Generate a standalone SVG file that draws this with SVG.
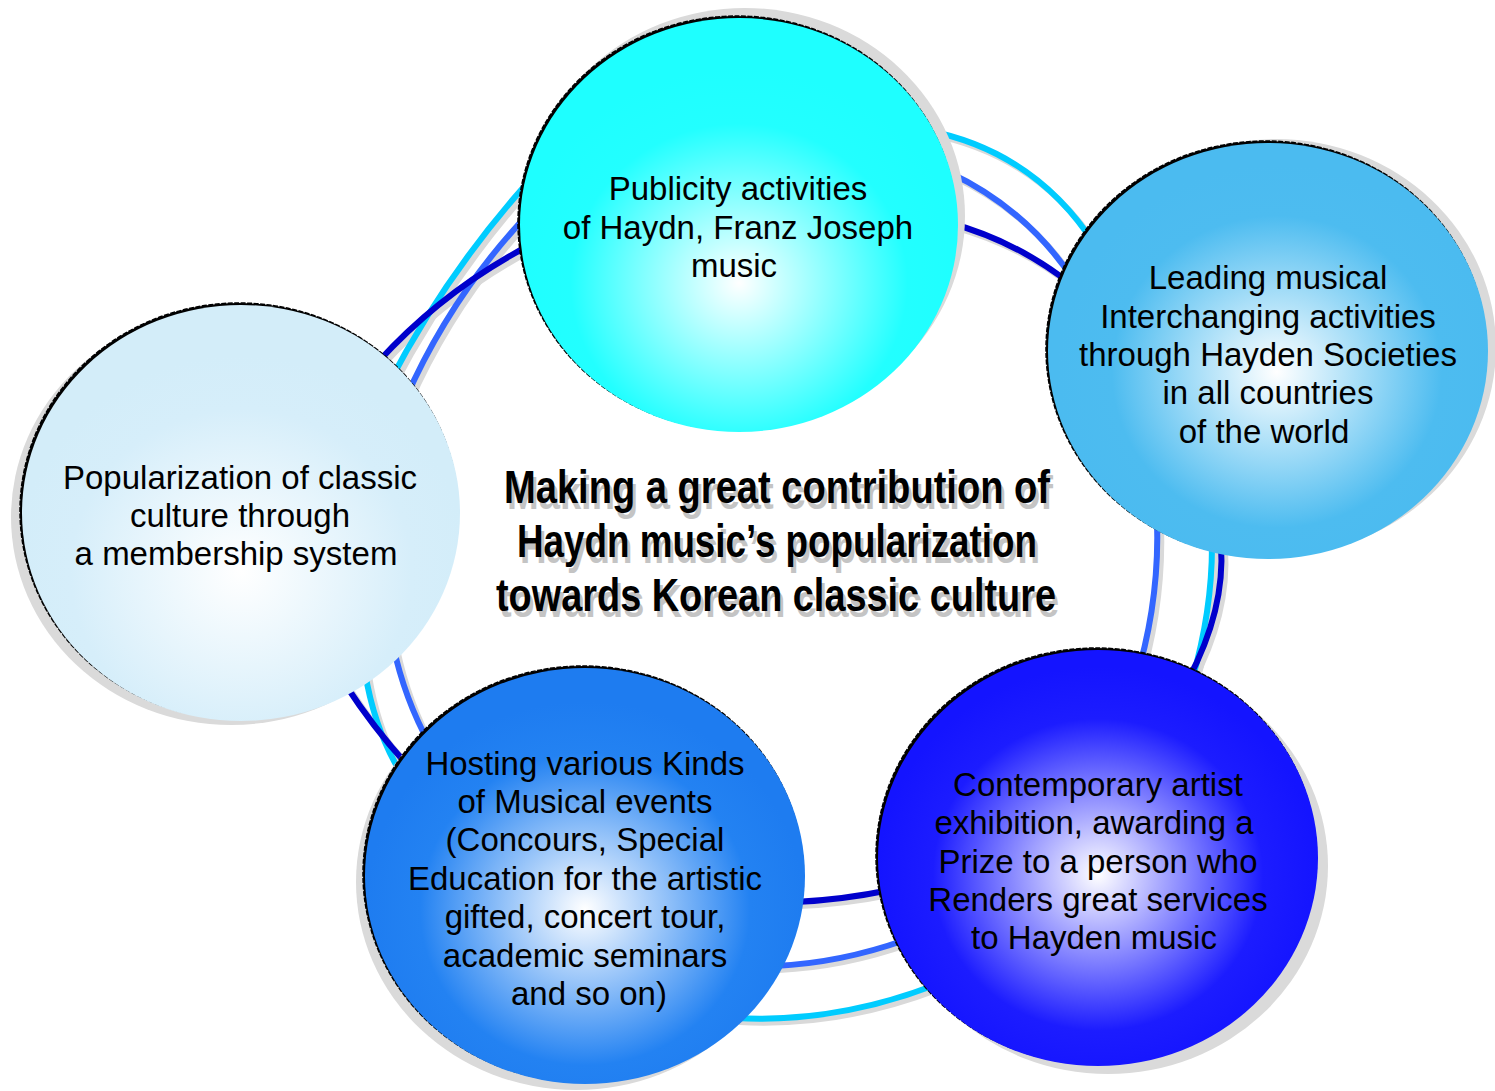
<svg xmlns="http://www.w3.org/2000/svg" xmlns:xlink="http://www.w3.org/1999/xlink" width="1495" height="1091" viewBox="0 0 1495 1091">
<style>
.sh{fill:none;stroke:#d9d9d9;stroke-width:6}
.cy{fill:none;stroke:#00ccff;stroke-width:6}
.bl{fill:none;stroke:#3366ff;stroke-width:6}
.nv{fill:none;stroke:#0000cc;stroke-width:6}
.nshadow{fill:#dadada}
.outline{fill:#000;stroke:#000;stroke-width:1.5;stroke-dasharray:5 1.5}
.lbl{font-family:"Liberation Sans",Arial,sans-serif;font-size:33px;fill:#000;text-anchor:middle}
.ttl{font-family:"Liberation Sans",Arial,sans-serif;font-weight:bold;font-size:46px;text-anchor:middle}
</style>
<defs>
<radialGradient id="gTop" cx="50%" cy="64%" r="52%"><stop offset="0" stop-color="#ffffff"/><stop offset="0.74" stop-color="#22ffff"/><stop offset="1" stop-color="#1effff"/></radialGradient>
<radialGradient id="gRight" cx="52%" cy="55%" r="50%"><stop offset="0" stop-color="#ffffff"/><stop offset="0.75" stop-color="#4dbcf0"/><stop offset="1" stop-color="#4bbbf0"/></radialGradient>
<radialGradient id="gLeft" cx="50%" cy="64%" r="52%"><stop offset="0" stop-color="#ffffff"/><stop offset="0.75" stop-color="#d6eefa"/><stop offset="1" stop-color="#d3edf9"/></radialGradient>
<radialGradient id="gBL" cx="50%" cy="58%" r="50%"><stop offset="0" stop-color="#ffffff"/><stop offset="0.75" stop-color="#2382f2"/><stop offset="1" stop-color="#1e7cf0"/></radialGradient>
<radialGradient id="gBR" cx="50%" cy="54%" r="50%"><stop offset="0" stop-color="#ffffff"/><stop offset="0.75" stop-color="#1c1cff"/><stop offset="1" stop-color="#1414ff"/></radialGradient>
<path id="aC" d="M925,130 Q1034.6,150.7 1095,245"/>
<path id="aB" d="M948,172 Q1027.3,208.8 1075,282"/>
<path id="aN" d="M950,223 Q1017.4,241.6 1072,285"/>
<path id="bB" d="M1157,520 Q1159.5,593.5 1140,665"/>
<path id="bC" d="M1212,545 Q1212,611.5 1192,680"/>
<path id="bN" d="M1221,545 Q1225.5,609.5 1188,680"/>
<path id="cN" d="M795,902 Q841.5,900 890,890"/>
<path id="cB" d="M775,966 Q840,963 905,940"/>
<path id="cC" d="M735,1018 Q835,1023.5 935,985"/>
<path id="dN" d="M345,684 Q375,730 410,768"/>
<path id="dC" d="M365,672 Q374.5,730.5 402,775"/>
<path id="dB" d="M393,645 Q404.5,699 430,745"/>
<path id="eC" d="M388,385 Q445.8,273.5 530,180"/>
<path id="eB" d="M405,400 Q451,295 530,212"/>
<path id="eN" d="M378,362 Q443.6,290 530,245"/>
</defs>
<rect width="1495" height="1091" fill="#ffffff"/>
<g id="connectors">
<g transform="translate(4,4)">
<use xlink:href="#aC" class="sh"/><use xlink:href="#aB" class="sh"/><use xlink:href="#aN" class="sh"/>
<use xlink:href="#bB" class="sh"/><use xlink:href="#bC" class="sh"/><use xlink:href="#bN" class="sh"/>
<use xlink:href="#cN" class="sh"/><use xlink:href="#cB" class="sh"/><use xlink:href="#cC" class="sh"/>
<use xlink:href="#dN" class="sh"/><use xlink:href="#dC" class="sh"/><use xlink:href="#dB" class="sh"/>
<use xlink:href="#eC" class="sh"/><use xlink:href="#eB" class="sh"/><use xlink:href="#eN" class="sh"/>
</g>
<use xlink:href="#aC" class="cy"/><use xlink:href="#bC" class="cy"/><use xlink:href="#cC" class="cy"/><use xlink:href="#dC" class="cy"/><use xlink:href="#eC" class="cy"/>
<use xlink:href="#aB" class="bl"/><use xlink:href="#bB" class="bl"/><use xlink:href="#cB" class="bl"/><use xlink:href="#dB" class="bl"/><use xlink:href="#eB" class="bl"/>
<use xlink:href="#aN" class="nv"/><use xlink:href="#bN" class="nv"/><use xlink:href="#cN" class="nv"/><use xlink:href="#dN" class="nv"/><use xlink:href="#eN" class="nv"/>
</g>
<g id="node-top">
<ellipse class="nshadow" cx="745" cy="216" rx="220" ry="208"/>
<ellipse class="outline" cx="737" cy="223" rx="219" ry="207"/>
<ellipse fill="url(#gTop)" cx="739" cy="225" rx="219" ry="207"/>
<text class="lbl"><tspan x="738" y="200">Publicity activities</tspan><tspan x="738" y="239">of Haydn, Franz Joseph</tspan><tspan x="734" y="277">music</tspan></text>
</g>
<g id="node-right">
<ellipse class="nshadow" cx="1276" cy="347" rx="220" ry="208"/>
<ellipse class="outline" cx="1266" cy="349" rx="220" ry="208"/>
<ellipse fill="url(#gRight)" cx="1268" cy="351" rx="220" ry="208"/>
<text class="lbl"><tspan x="1268" y="289">Leading musical</tspan><tspan x="1268" y="328">Interchanging activities</tspan><tspan x="1268" y="366">through Hayden Societies</tspan><tspan x="1268" y="404">in all countries</tspan><tspan x="1264" y="443">of the world</tspan></text>
</g>
<g id="node-left">
<ellipse class="nshadow" cx="231" cy="517" rx="220" ry="208"/>
<ellipse class="outline" cx="239" cy="511" rx="219" ry="208"/>
<ellipse fill="url(#gLeft)" cx="241" cy="513" rx="219" ry="208"/>
<text class="lbl"><tspan x="240" y="489">Popularization of classic</tspan><tspan x="240" y="527">culture through</tspan><tspan x="236" y="565">a membership system</tspan></text>
</g>
<g id="node-bottom-left">
<ellipse class="nshadow" cx="576" cy="882" rx="220" ry="208"/>
<ellipse class="outline" cx="583" cy="874" rx="220" ry="208"/>
<ellipse fill="url(#gBL)" cx="585" cy="876" rx="220" ry="208"/>
<text class="lbl"><tspan x="585" y="775">Hosting various Kinds</tspan><tspan x="585" y="813">of Musical events</tspan><tspan x="585" y="851">(Concours, Special</tspan><tspan x="585" y="890">Education for the artistic</tspan><tspan x="585" y="928">gifted, concert tour,</tspan><tspan x="585" y="967">academic seminars</tspan><tspan x="589" y="1005">and so on)</tspan></text>
</g>
<g id="node-bottom-right">
<ellipse class="nshadow" cx="1108" cy="866" rx="220" ry="208"/>
<ellipse class="outline" cx="1096" cy="856" rx="220" ry="208"/>
<ellipse fill="url(#gBR)" cx="1098" cy="858" rx="220" ry="208"/>
<text class="lbl"><tspan x="1098" y="796">Contemporary artist</tspan><tspan x="1094" y="834">exhibition, awarding a</tspan><tspan x="1098" y="873">Prize to a person who</tspan><tspan x="1098" y="911">Renders great services</tspan><tspan x="1094" y="949">to Hayden music</tspan></text>
</g>
<g id="title">
<g fill="#c4c4c4" transform="translate(3,6)">
<text class="ttl" x="777" y="503" textLength="546" lengthAdjust="spacingAndGlyphs">Making a great contribution of</text>
<text class="ttl" x="777" y="557" textLength="520" lengthAdjust="spacingAndGlyphs">Haydn music’s popularization</text>
<text class="ttl" x="776" y="611" textLength="560" lengthAdjust="spacingAndGlyphs">towards Korean classic culture</text>
</g>
<g fill="#000000">
<text class="ttl" x="777" y="503" textLength="546" lengthAdjust="spacingAndGlyphs">Making a great contribution of</text>
<text class="ttl" x="777" y="557" textLength="520" lengthAdjust="spacingAndGlyphs">Haydn music’s popularization</text>
<text class="ttl" x="776" y="611" textLength="560" lengthAdjust="spacingAndGlyphs">towards Korean classic culture</text>
</g>
</g>
</svg>
